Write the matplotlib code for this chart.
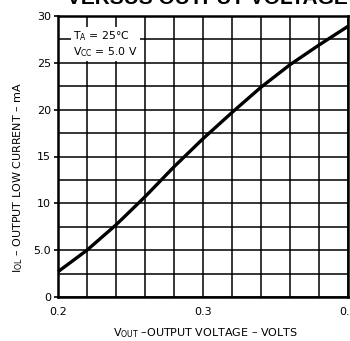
import matplotlib
matplotlib.use("Agg")
import matplotlib.pyplot as plt
import numpy as np

vout = [0.20, 0.22, 0.24, 0.26, 0.28, 0.30, 0.32, 0.34, 0.36, 0.38, 0.40]
iol = [2.7, 5.0, 7.7, 10.7, 13.9, 16.9, 19.7, 22.4, 24.8, 26.9, 28.9]
xtick_vals = [0.2, 0.3, 0.4]
xtick_labels = ["0.2", "0.3", "0.4"]
ytick_vals = [0, 5, 10, 15, 20, 25, 30]
ytick_labels = ["0", "5.0", "10", "15", "20", "25", "30"]

plt.rcParams['font.family'] = ['DejaVu Sans']
plt.rcParams['mathtext.fontset'] = 'dejavusans'

W, H = 350, 341
fig = plt.figure(figsize=(W/100, H/100), dpi=100)
ax = fig.add_axes([58/W, 1 - 297/H, 290/W, (297-16)/H])

ax.set_xlim(0.2, 0.4)
ax.set_ylim(0, 30)
ax.set_xticks(np.arange(0.2, 0.4001, 0.02), minor=True)
ax.set_yticks(np.arange(0, 30.01, 2.5), minor=True)
ax.grid(True, which='both', color='black', linewidth=1.1)
ax.set_xticks(xtick_vals)
ax.set_xticklabels(xtick_labels, fontsize=8)
ax.set_yticks(ytick_vals)
ax.set_yticklabels(ytick_labels, fontsize=8)
ax.tick_params(which='minor', length=0)
ax.tick_params(axis='x', which='major', length=0, pad=7)
ax.tick_params(axis='y', which='major', length=3, width=1.2, pad=2)
for s in ax.spines.values():
    s.set_linewidth(1.8)
ax.set_axisbelow(True)

ax.plot(vout, iol, color='black', linewidth=2.4, solid_capstyle='butt', clip_on=False, zorder=3)

ax.text(0.2105, 27.0, "T$_\\mathregular{A}$ = 25°C\nV$_\\mathregular{CC}$ = 5.0 V", fontsize=7.8,
        va='center', ha='left', linespacing=1.15,
        bbox=dict(facecolor='white', edgecolor='none', pad=1.5), zorder=4)

fig.text(206/W, 1 - 333/H, "V$_\\mathregular{OUT}$ \u2013OUTPUT VOLTAGE \u2013 VOLTS", fontsize=8,
         ha='center', va='center')
fig.text(18/W, 1 - 178/H, "I$_\\mathregular{OL}$ \u2013 OUTPUT LOW CURRENT \u2013 mA", fontsize=8,
         ha='center', va='center', rotation=90)

fig.text(67/W, 1 - 4/H, "VERSUS OUTPUT VOLTAGE", fontsize=15, fontweight='bold',
         family='Liberation Sans', ha='left', va='baseline')

fig.savefig("out.png", dpi=100)
